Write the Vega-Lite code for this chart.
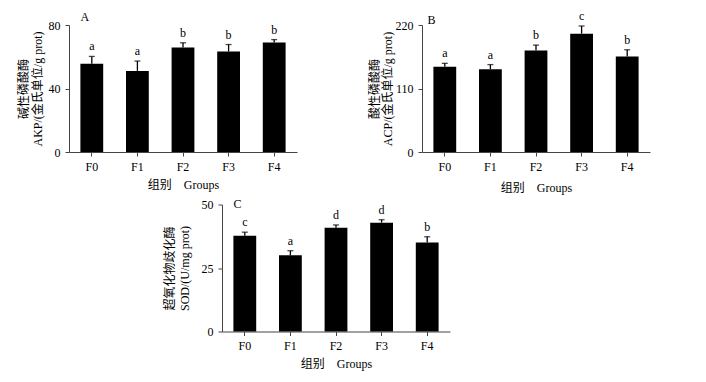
{
  "$schema": "https://vega.github.io/schema/vega-lite/v6.json",
  "padding": {"left": 17, "top": 9, "right": 5, "bottom": 5},
  "background": "white",
  "config": {
    "view": {"stroke": null},
    "font": "Liberation Serif",
    "axis": {
      "domainColor": "#444",
      "domainWidth": 1,
      "tickColor": "#444",
      "tickSize": 4,
      "grid": false,
      "labelFont": "Liberation Serif, Noto Sans CJK SC",
      "labelFontSize": 12,
      "labelColor": "black",
      "titleFont": "Liberation Serif, Noto Sans CJK SC",
      "titleFontWeight": "normal",
      "titleColor": "black"
    }
  },
  "datasets": {
    "A": [
      {"group": "F0", "mean": 55.6, "upper": 60.2, "sig": "a"},
      {"group": "F1", "mean": 51.1, "upper": 57.3, "sig": "a"},
      {"group": "F2", "mean": 65.8, "upper": 68.8, "sig": "b"},
      {"group": "F3", "mean": 63.3, "upper": 67.7, "sig": "b"},
      {"group": "F4", "mean": 68.9, "upper": 70.8, "sig": "b"}
    ],
    "B": [
      {"group": "F0", "mean": 147.5, "upper": 153.6, "sig": "a"},
      {"group": "F1", "mean": 143.4, "upper": 151.4, "sig": "a"},
      {"group": "F2", "mean": 176.0, "upper": 185.2, "sig": "b"},
      {"group": "F3", "mean": 205.0, "upper": 218.3, "sig": "c"},
      {"group": "F4", "mean": 165.6, "upper": 177.1, "sig": "b"}
    ],
    "C": [
      {"group": "F0", "mean": 37.7, "upper": 39.1, "sig": "c"},
      {"group": "F1", "mean": 30.0, "upper": 31.8, "sig": "a"},
      {"group": "F2", "mean": 40.8, "upper": 41.95, "sig": "d"},
      {"group": "F3", "mean": 42.86, "upper": 44.0, "sig": "d"},
      {"group": "F4", "mean": 35.06, "upper": 37.3, "sig": "b"}
    ],
    "empty": []
  },
  "bounds": "flush",
  "spacing": 179.5,
  "vconcat": [
    {
      "bounds": "flush",
      "spacing": 125,
      "hconcat": [
        {
          "width": 228, "height": 127,
          "data": {"name": "A"},
          "encoding": {
            "x": {"field": "group", "type": "nominal", "sort": null,
              "scale": {"paddingInner": 0.5, "paddingOuter": 0.25},
              "axis": {"labelAngle": 0, "labelPadding": 5, "title": "组别\u2003Groups", "titleFontSize": 12, "titlePadding": 7}}
          },
          "layer": [
            {"mark": {"type": "rule", "color": "black", "strokeWidth": 1.3},
             "encoding": {"y": {"field": "mean", "type": "quantitative", "scale": {"domain": [0, 80]},
               "axis": {"values": [0, 40, 80], "labelPadding": 5, "titleFontSize": 12, "titleLineHeight": 14, "titlePadding": 4,
                 "title": ["碱性磷酸酶", "AKP/(金氏单位/g prot)"]}},
               "y2": {"field": "upper"}}},
            {"mark": {"type": "bar", "color": "black"},
             "encoding": {"y": {"field": "mean", "type": "quantitative"}}},
            {"mark": {"type": "tick", "color": "black", "size": 6, "thickness": 1.3},
             "encoding": {"y": {"field": "upper", "type": "quantitative"}}},
            {"mark": {"type": "text", "color": "black", "fontSize": 12, "font": "Liberation Serif", "baseline": "alphabetic", "dy": -6},
             "encoding": {"y": {"field": "upper", "type": "quantitative"}, "text": {"field": "sig"}}},
            {"data": {"values": [{"panel": "A"}]},
             "mark": {"type": "text", "color": "black", "fontSize": 12, "font": "Liberation Serif", "align": "left", "baseline": "alphabetic", "dy": -4},
             "encoding": {"x": {"datum": "F0", "bandPosition": 0}, "y": {"datum": 80, "type": "quantitative"}, "text": {"field": "panel"}}}
          ]
        },
        {
          "width": 228, "height": 127,
          "data": {"name": "B"},
          "encoding": {
            "x": {"field": "group", "type": "nominal", "sort": null,
              "scale": {"paddingInner": 0.5, "paddingOuter": 0.25},
              "axis": {"labelAngle": 0, "labelPadding": 5, "title": "组别\u2003Groups", "titleFontSize": 12, "titlePadding": 10}}
          },
          "layer": [
            {"mark": {"type": "rule", "color": "black", "strokeWidth": 1.3},
             "encoding": {"y": {"field": "mean", "type": "quantitative", "scale": {"domain": [0, 220]},
               "axis": {"values": [0, 110, 220], "labelPadding": 5, "titleFontSize": 12, "titleLineHeight": 13, "titlePadding": 1,
                 "title": ["酸性磷酸酶", "ACP/(金氏单位/g prot)"]}},
               "y2": {"field": "upper"}}},
            {"mark": {"type": "bar", "color": "black"},
             "encoding": {"y": {"field": "mean", "type": "quantitative"}}},
            {"mark": {"type": "tick", "color": "black", "size": 6, "thickness": 1.3},
             "encoding": {"y": {"field": "upper", "type": "quantitative"}}},
            {"mark": {"type": "text", "color": "black", "fontSize": 12, "font": "Liberation Serif", "baseline": "alphabetic", "dy": -6},
             "encoding": {"y": {"field": "upper", "type": "quantitative"}, "text": {"field": "sig"}}},
            {"data": {"values": [{"panel": "B"}]},
             "mark": {"type": "text", "color": "black", "fontSize": 12, "font": "Liberation Serif", "align": "left", "baseline": "alphabetic", "dx": -6, "dy": -1},
             "encoding": {"x": {"datum": "F0", "bandPosition": 0}, "y": {"datum": 220, "type": "quantitative"}, "text": {"field": "panel"}}}
          ]
        }
      ]
    },
    {
      "bounds": "flush",
      "spacing": 152,
      "hconcat": [
        {
          "width": 1, "height": 1,
          "data": {"name": "empty"},
          "mark": {"type": "point", "opacity": 0}
        },
        {
          "width": 228, "height": 127,
          "data": {"name": "C"},
          "encoding": {
            "x": {"field": "group", "type": "nominal", "sort": null,
              "scale": {"paddingInner": 0.5, "paddingOuter": 0.25},
              "axis": {"labelAngle": 0, "labelPadding": 5, "title": "组别\u2003Groups", "titleFontSize": 12, "titlePadding": 7}}
          },
          "layer": [
            {"mark": {"type": "rule", "color": "black", "strokeWidth": 1.3},
             "encoding": {"y": {"field": "mean", "type": "quantitative", "scale": {"domain": [0, 50]},
               "axis": {"values": [0, 25, 50], "labelPadding": 5, "titleFontSize": 12, "titleLineHeight": 15, "titlePadding": 10,
                 "title": ["超氧化物歧化酶", "SOD/(U/mg prot)"]}},
               "y2": {"field": "upper"}}},
            {"mark": {"type": "bar", "color": "black"},
             "encoding": {"y": {"field": "mean", "type": "quantitative"}}},
            {"mark": {"type": "tick", "color": "black", "size": 6, "thickness": 1.3},
             "encoding": {"y": {"field": "upper", "type": "quantitative"}}},
            {"mark": {"type": "text", "color": "black", "fontSize": 12, "font": "Liberation Serif", "baseline": "alphabetic", "dy": -6},
             "encoding": {"y": {"field": "upper", "type": "quantitative"}, "text": {"field": "sig"}}},
            {"data": {"values": [{"panel": "C"}]},
             "mark": {"type": "text", "color": "black", "fontSize": 12, "font": "Liberation Serif", "align": "left", "baseline": "alphabetic", "dy": 3},
             "encoding": {"x": {"datum": "F0", "bandPosition": 0}, "y": {"datum": 50, "type": "quantitative"}, "text": {"field": "panel"}}}
          ]
        }
      ]
    }
  ]
}
